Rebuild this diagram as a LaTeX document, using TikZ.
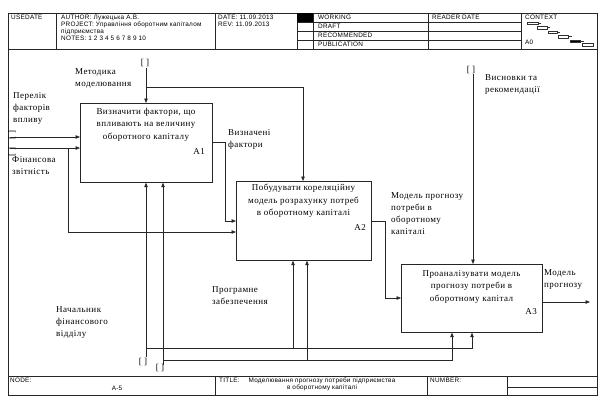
\documentclass[tikz,border=0pt]{standalone}
\usepackage{fontspec}
\setmainfont{Liberation Serif}
\newfontfamily\dgm[LetterSpace=5]{Liberation Serif}
\newfontfamily\hdr[LetterSpace=4]{Liberation Sans}
\usetikzlibrary{arrows.meta,calc}
\begin{document}
\begin{tikzpicture}[x=1pt,y=-1pt,
 ln/.style={draw=black!85, line width=0.6pt},
 arr/.style={ln, -{Triangle[length=4.5pt,width=3.5pt]}},
 proc/.style={draw=black!85, line width=0.7pt, anchor=north west, inner sep=0pt},
 lbl/.style={font=\dgm\fontsize{9}{12}\selectfont, align=left, anchor=north west, inner sep=0pt},
 ptxt/.style={font=\dgm\fontsize{9}{12.5}\selectfont, align=center, anchor=north, inner sep=0pt},
 tag/.style={font=\dgm\fontsize{9}{10}\selectfont, anchor=east, inner sep=0pt},
 hd/.style={font=\hdr\fontsize{6.4}{7}\selectfont, anchor=north west, inner sep=0pt, align=left},
 brk/.style={font=\fontsize{9}{10}\selectfont, inner sep=0pt},
 frm/.style={draw=black!85, line width=0.5pt},
 ctx/.style={draw=black!80, line width=0.4pt}]

\useasboundingbox (0,0) rectangle (600,400);
\fill[white] (0,0) rectangle (600,400);

% ---------- frame ----------
\draw[frm] (8,13) rectangle (597,49);
\draw[frm] (8,49) rectangle (597,376);
\draw[frm] (8,376) rectangle (597,395);
\foreach \xx in {56,215,297,313,428,521} \draw[frm] (\xx,13) -- (\xx,49);
\foreach \yy in {22,31,40} \draw[frm] (297,\yy) -- (521,\yy);
\fill[black] (297,13) rectangle (313,22);
\foreach \xx in {215,427,507} \draw[frm] (\xx,376) -- (\xx,395);
\draw[frm] (507,387) -- (597,387);

% header texts
\node[hd] (usedate) at (11,14.5) {USEDATE};
\node[hd] (author) at (61,14.5) {AUTHOR: Лужецька А.В.\\PROJECT: Управління оборотним капіталом\\підприємства\\NOTES: 1 2 3 4 5 6 7 8 9 10};
\node[hd] (date) at (218,14.5) {DATE: 11.09.2013\\REV: 11.09.2013};
\node[hd] (working) at (318,14.5) {WORKING};
\node[hd] (draft) at (318,23.5) {DRAFT};
\node[hd] (recom) at (318,32.5) {RECOMMENDED};
\node[hd] (publ) at (318,41.5) {PUBLICATION};
\node[hd] (reader) at (432,14.5) {READER DATE};
\node[hd] (context) at (525,14.5) {CONTEXT};
\node[hd] (a0) at (525,40) {A0};
% context staircase
\draw[ctx] (527,22) rectangle (538,24.5);
\draw[ctx] (537,26.5) rectangle (547,29);
\draw[ctx] (548,31) rectangle (557,33.5);
\draw[ctx] (558,35.5) rectangle (568,38);
\filldraw[ctx,fill=black] (570,40) rectangle (580,42.5);
\draw[ctx] (582,43.5) rectangle (593,46);
\draw[ctx] (538,23) -- (541,23);
\draw[ctx] (547,27.5) -- (550,27.5);
\draw[ctx] (557,32) -- (560,32);
\draw[ctx] (568,36.5) -- (572,36.5);
\draw[ctx] (580,41) -- (584,41);

% footer texts
\node[hd] (nodelbl) at (10,377.5) {NODE:};
\node[hd, anchor=north] (nodenum) at (117,386) {A-5};
\node[hd] (titlelbl) at (219,377.5) {TITLE:};
\node[hd, anchor=north, align=center] (titletxt) at (322,377.5) {Моделювання прогнозу потреби підприємства\\в оборотному капіталі};
\node[hd] (numlbl) at (430,377.5) {NUMBER:};

% ---------- process boxes ----------
\node[proc, minimum width=132pt, minimum height=79pt] (A1) at (80,103) {};
\node[proc, minimum width=135pt, minimum height=79pt] (A2) at (236,181) {};
\node[proc, minimum width=141pt, minimum height=68pt] (A3) at (401,264) {};

\node[ptxt] (t1) at (146,108) {Визначити фактори, що\\впливають на величину\\оборотного капіталу};
\node[tag] (n1) at (205,152) {A1};
\node[ptxt] (t2) at (303.5,184) {Побудувати кореляційну\\модель розрахунку потреб\\в оборотному капіталі};
\node[tag] (n2) at (366,228) {A2};
\node[ptxt] (t3) at (471.5,270) {Проаналізувати модель\\прогнозу потреби в\\оборотному капітал};
\node[tag] (n3) at (537,312) {A3};

% ---------- labels ----------
\node[lbl] (l_met) at (75,68) {Методика\\моделювання};
\node[lbl] (l_per) at (13,92) {Перелік\\факторів\\впливу};
\node[lbl] (l_fin) at (12,156) {Фінансова\\звітність};
\node[lbl] (l_viz) at (228,129) {Визначені\\фактори};
\node[lbl] (l_mod) at (391,192) {Модель прогнозу\\потреби в\\оборотному\\капіталі};
\node[lbl] (l_vys) at (485,74) {Висновки та\\рекомендації};
\node[lbl] (l_out) at (544,269) {Модель\\прогнозу};
\node[lbl] (l_prg) at (212,286) {Програмне\\забезпечення};
\node[lbl] (l_nach) at (56,306) {Начальник\\фінансового\\відділу};

% ---------- tunnel brackets ----------
\node[brk] (b_c1) at (145,63) {[ ]};
\node[brk] (b_c3) at (471,70) {[ ]};
\node[brk, rotate=90] (b_i1) at (12,135) {[ ]};
\node[brk, rotate=90] (b_i2) at (12,152) {[ ]};
\node[brk] (b_m1) at (143,362) {[ ]};
\node[brk] (b_m2) at (160,368) {[ ]};

% ---------- connectors ----------
% inputs of A1
\coordinate (i1) at (10,137);
\coordinate (i2) at (10,148);
\draw[arr] (i1) -- (A1.west |- i1);
\draw[arr] (i2) -- (A1.west |- i2);
\coordinate (i2a) at (68,148);
\coordinate (i2b) at (68,232);
\draw[arr] (i2a) -- (i2b) -- (A2.west |- i2b);

% output A1 -> A2
\draw[arr] ($(A1.north east)+(0,39)$) -| ($(A2.north west)+(-11,40)$) -- ($(A2.north west)+(0,40)$);

% control A1 and A2
\coordinate (c1) at (146,68);
\coordinate (c1b) at (146,87);
\draw[arr] (c1) -- (A1.north -| c1);
\draw[arr] (c1b) -| ($(A2.north west)+(67,0)$);

% output A2 -> A3
\draw[arr] ($(A2.north east)+(0,40)$) -| ($(A3.north west)+(-16,34)$) -- ($(A3.north west)+(0,34)$);

% control A3
\coordinate (c3) at (473,74);
\draw[arr] (c3) -- (A3.north -| c3);

% output A3
\coordinate (o3) at (590,302);
\draw[arr] ($(A3.north east)+(0,38)$) -- (o3);

% mechanisms
\coordinate (m1) at (146,357);
\coordinate (m2) at (163,365);
\draw[arr] (m1) -- (A1.south -| m1);
\draw[arr] (m2) -- (A1.south -| m2);
\coordinate (h1) at (146,348);
\coordinate (h2) at (163,360);
\coordinate (h1a) at (293,348);
\coordinate (h2a) at (307,360);
\draw[arr] (h1) -| ($(A3.south west)+(71,0)$);
\draw[arr] (h1a) -- (A2.south -| h1a);
\draw[arr] (h2) -| ($(A3.south west)+(51,0)$);
\draw[arr] (h2a) -- (A2.south -| h2a);
\end{tikzpicture}
\end{document}
